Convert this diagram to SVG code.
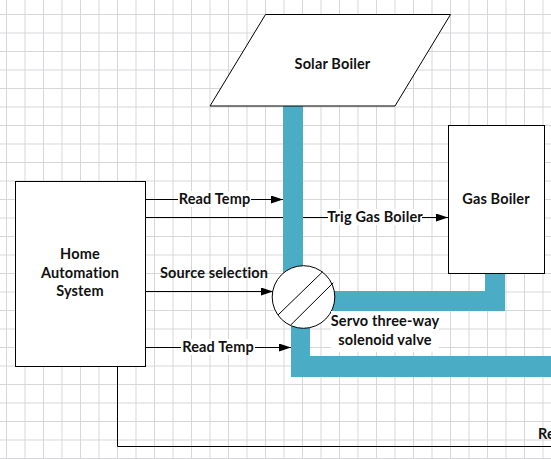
<svg xmlns="http://www.w3.org/2000/svg" width="551" height="459" viewBox="0 0 551 459">
<defs>
<pattern id="grid" width="18.5" height="18.5" patternUnits="userSpaceOnUse" x="6" y="14">
<path d="M0.5 0V18.5M0 0.5H18.5" fill="none" stroke="#d6d6da" stroke-width="1"/>
</pattern>
<marker id="arrow" markerWidth="12" markerHeight="8" refX="12" refY="4" orient="auto" markerUnits="userSpaceOnUse"><path d="M0 0L12 4L0 8z" fill="#000"/></marker>
</defs>
<style>
.s{fill:#fff;stroke:#000;stroke-width:1}
.l{fill:none;stroke:#000;stroke-width:1}
.a{marker-end:url(#arrow)}
.p{fill:#4bacc6}
text{font-family:Lato,"Open Sans","Liberation Sans",sans-serif;font-size:14.500px;font-weight:700;letter-spacing:.15px;fill:#111;text-anchor:middle}
.bg{fill:#fff}
</style>
<rect width="551" height="459" fill="#fff"/>
<rect width="551" height="459" fill="url(#grid)"/>
<g id="pipes">
<rect class="p" x="283" y="106" width="20" height="170"/>
<path class="p" d="M330 291H485V273H505V311H330z"/>
<path class="p" d="M291 322H310V356H551V377H291z"/>
</g>
<g id="connectors">
<path class="l a" d="M146 199.500H283"/>
<path class="l" d="M146 217.500H283"/>
<path class="l a" d="M303 217.500H448"/>
<path class="l a" d="M146 291.500H273"/>
<path class="l a" d="M146 347.500H291"/>
<path class="l" d="M117.500 366V446.500H551"/>
</g>
<g id="solar-boiler"><path class="s" d="M265.500 14.500H450.500L395 106H210z"/><text x="332.500" y="69">Solar Boiler</text></g>
<g id="gas-boiler"><rect class="s" x="448.500" y="125.500" width="96" height="148"/><text x="496" y="204">Gas Boiler</text></g>
<g id="home-automation"><rect class="s" x="15.500" y="181.500" width="130" height="185"/><text x="80" y="259">Home</text><text x="80" y="278">Automation</text><text x="80" y="296">System</text></g>
<g id="valve"><circle class="s" cx="303.500" cy="297" r="31.300"/><path class="l" d="M278 315L322.700 271.700M290.700 325L333.300 282.700"/></g>
<g id="labels">
<rect class="bg" x="178" y="191" width="73" height="16"/><text x="214.500" y="204">Read Temp</text>
<rect class="bg" x="328" y="209" width="94" height="16"/><text x="375" y="222">Trig Gas Boiler</text>
<text x="214" y="278">Source selection</text>
<rect class="bg" x="181" y="339" width="74" height="16"/><text x="218" y="352">Read Temp</text>
<rect class="bg" x="331" y="311" width="108" height="41"/>
<text x="385" y="326">Servo three-way</text><text x="385" y="345">solenoid valve</text>
<text x="538" y="439" style="text-anchor:start">Re</text>
</g>
</svg>
